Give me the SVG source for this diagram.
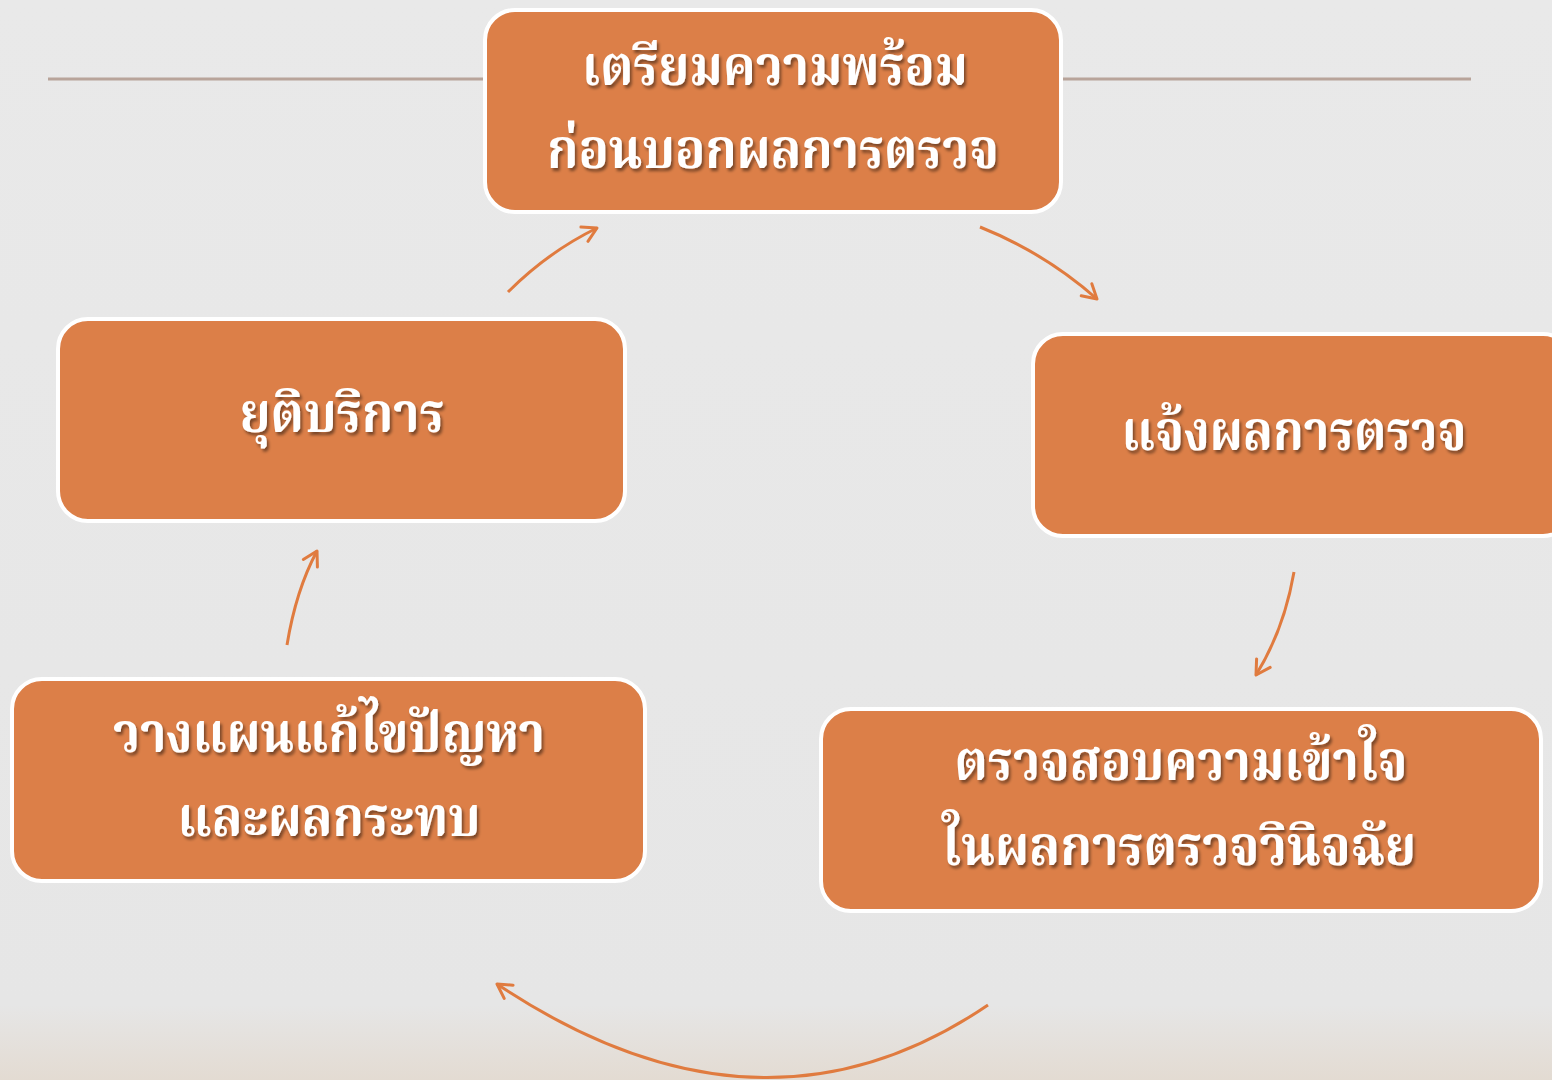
<svg xmlns="http://www.w3.org/2000/svg" width="1552" height="1080" viewBox="0 0 1552 1080">
<defs>
<linearGradient id="bg" x1="0" y1="0" x2="0" y2="1">
<stop offset="0" stop-color="#e9e9e9"/>
<stop offset="0.93" stop-color="#e6e6e6"/>
<stop offset="1" stop-color="#e3dbd2"/>
</linearGradient>
<filter id="sh" x="-10%" y="-30%" width="120%" height="160%">
<feDropShadow dx="2" dy="3" stdDeviation="1.5" flood-color="#000" flood-opacity="0.45"/>
</filter>
<marker id="ah" viewBox="0 0 20 20" refX="18" refY="10" markerWidth="20" markerHeight="20" markerUnits="userSpaceOnUse" orient="auto">
<path d="M4,2 L18,10 L4,18" fill="none" stroke="#e07b3f" stroke-width="3" stroke-linecap="round" stroke-linejoin="round"/>
</marker>
</defs>
<style>
.box{fill:#dc7f48;stroke:#ffffff;stroke-width:4}
.t{fill:#ffffff;font-family:"Noto Serif Thai","Noto Sans Thai Looped","Noto Sans Thai","Noto Sans","DejaVu Sans",sans-serif;font-weight:bold;font-size:56px;text-anchor:middle;filter:url(#sh)}
.c{fill:none;stroke:#e07b3f;stroke-width:3;marker-end:url(#ah)}
</style>
<rect x="0" y="0" width="1552" height="1080" fill="url(#bg)"/>
<line x1="48" y1="79" x2="1471" y2="79" stroke="#b8a49a" stroke-width="3"/>
<g id="connectors">
<path class="c" d="M508,292 Q548,252 597,228"/>
<path class="c" d="M980,227 Q1045,253 1097,299"/>
<path class="c" d="M1294,572 Q1284,630 1256,675"/>
<path class="c" d="M988,1005 Q760,1160 497,984"/>
<path class="c" d="M287,645 Q296,590 317,551"/>
</g>
<g id="node1">
<rect class="box" x="485" y="10" width="576" height="202" rx="30"/>
<text class="t" x="775" y="85" textLength="386" lengthAdjust="spacingAndGlyphs">เตรียมความพร้อม</text>
<text class="t" x="773" y="168" textLength="452" lengthAdjust="spacingAndGlyphs">ก่อนบอกผลการตรวจ</text>
</g>
<g id="node2">
<rect class="box" x="1033" y="334" width="540" height="202" rx="30"/>
<text class="t" x="1294" y="450" textLength="345" lengthAdjust="spacingAndGlyphs">แจ้งผลการตรวจ</text>
</g>
<g id="node3">
<rect class="box" x="821" y="709" width="720" height="202" rx="30"/>
<text class="t" x="1181" y="780" textLength="453" lengthAdjust="spacingAndGlyphs">ตรวจสอบความเข้าใจ</text>
<text class="t" x="1179" y="865" textLength="474" lengthAdjust="spacingAndGlyphs">ในผลการตรวจวินิจฉัย</text>
</g>
<g id="node4">
<rect class="box" x="12" y="679" width="633" height="202" rx="30"/>
<text class="t" x="329" y="752" textLength="432" lengthAdjust="spacingAndGlyphs">วางแผนแก้ไขปัญหา</text>
<text class="t" x="329" y="836" textLength="303" lengthAdjust="spacingAndGlyphs">และผลกระทบ</text>
</g>
<g id="node5">
<rect class="box" x="58" y="319" width="567" height="202" rx="30"/>
<text class="t" x="342" y="432" textLength="205" lengthAdjust="spacingAndGlyphs">ยุติบริการ</text>
</g>
</svg>
